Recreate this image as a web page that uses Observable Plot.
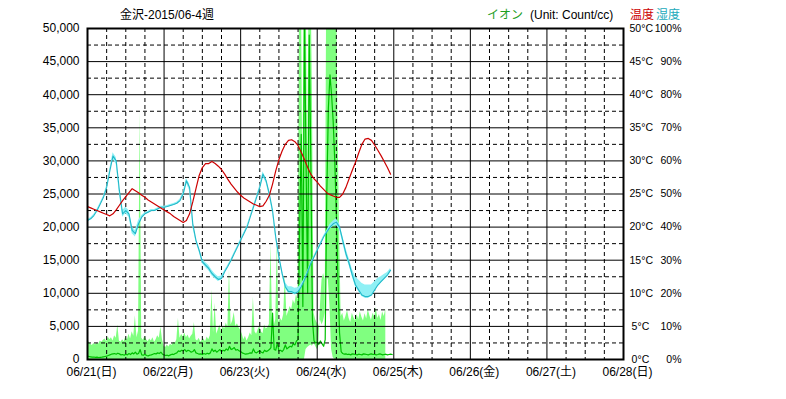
<!DOCTYPE html>
<html><head><meta charset="utf-8">
<script src="https://cdn.jsdelivr.net/npm/d3@7"></script>
<script src="https://cdn.jsdelivr.net/npm/@observablehq/plot@0.6"></script>
<style>
body{margin:0;background:#fff;}
#wrap{position:relative;width:786px;height:399px;font-family:"Liberation Sans","Noto Sans CJK JP",sans-serif;font-size:12px;}
.lbl{position:absolute;top:7px;white-space:nowrap;line-height:16px;}
#chart{position:absolute;left:0;top:0;}
</style></head><body>
<div id="wrap">
  <div id="chart"></div>
  <div class="lbl" style="left:120px;">金沢-2015/06-4週</div>
  <div class="lbl" style="left:487px;color:#1fa01f;">イオン</div>
  <div class="lbl" style="left:530px;">(Unit: Count/cc)</div>
  <div class="lbl" style="left:630px;color:#cc0000;">温度</div>
  <div class="lbl" style="left:656px;color:#22aabb;">湿度</div>
</div>
<script>
// ---- data (ion: every 30 min from 06/21 00:00; temp/humidity: hourly) ----
const dayDates = ["2015-06-21","2015-06-22","2015-06-23","2015-06-24","2015-06-25","2015-06-26","2015-06-27","2015-06-28"];
const dayLabels = ["06/21(日)","06/22(月)","06/23(火)","06/24(水)","06/25(木)","06/26(金)","06/27(土)","06/28(日)"];
const ionTicks = [0,5000,10000,15000,20000,25000,30000,35000,40000,45000,50000];
const ionHalfTicks = [2500,7500,12500,17500,22500,27500,32500,37500,42500,47500];
const tempTicks = [0,5,10,15,20,25,30,35,40,45,50];
const humTicks = [0,10,20,30,40,50,60,70,80,90,100];

const ionMax = [
3200,2600,2300,2100,2400,2200,2500,2300,2800,2600,
2900,3100,2700,3400,3000,3300,2800,3600,3200,5200,
2800,2600,3000,2700,3400,2900,3800,3100,4200,3500,
6600,3300,4300,37500,3200,2900,3500,3000,2700,3100,
2800,3300,2600,3000,3600,3200,4900,3000,
2000,1800,2200,1900,2300,2100,2600,2400,3000,6200,
3200,3800,3400,4000,3300,3700,3100,3500,3800,5600,
3000,2800,3200,2600,2900,3100,2700,3400,3000,3600,
10500,4000,8500,3800,4500,5200,4200,5000,4600,5500,
4800,13500,5200,5800,7100,5000,5400,4800,
4400,3800,3000,3500,2800,3300,4000,3600,9400,4200,
3800,4500,5000,4200,3900,5200,4600,4800,5300,17500,
5400,5000,6000,18000,5600,6200,5800,6800,12800,6500,
7200,8000,7500,9000,8400,9800,9000,60000,60000,26000,
60000,60000,27000,60000,60000,40000,7000,6000,
5500,5000,6000,5200,5800,7000,60000,60000,60000,60000,
60000,60000,60000,36000,20000,6500,7000,5800,6500,7400,
6200,5600,7000,6300,5800,6800,6000,7200,6400,5800,
6900,6100,7500,6600,5900,7000,6400,7800,6200,6800,
5900,7200,6500,7600,6000,6900,7400,6600];

const ionMin = [
0,0,0,0,0,0,0,0,0,0, 0,0,0,0,0,0,0,0,0,0, 0,0,0,0,0,0,0,0,0,0, 0,0,0,0,0,0,0,0,0,0, 0,0,0,0,0,0,0,0,
0,0,0,0,0,0,0,0,0,0, 0,0,0,0,0,0,0,0,0,0, 0,0,0,0,0,0,0,0,0,0, 0,0,0,0,0,0,0,0,0,0, 0,0,0,0,0,0,0,0,
0,0,0,0,0,0,0,0,0,0, 0,0,0,0,0,0,0,0,0,0, 0,0,0,0,0,0,0,0,0,0, 0,0,0,0,0,0,0,0,0,0,
0,1500,1800,2000,
2200,2000,2400,2000,1500,2000,8000,12000,13000,12000,
12500,12000,8000,1500,300,0,0,0,0,0,
0,0,0,0,0,0,0,0,0,0, 0,0,0,0,0,0,0,0,0,0, 0,0,0,0,0,0,0,0];

const ionAvg = [
500,450,400,350,380,320,350,300,330,350,
400,450,500,600,700,800,850,900,800,950,
850,700,750,650,800,700,900,750,1000,850,
1100,800,900,1500,700,650,800,600,550,650,
700,800,900,850,1000,900,1100,800,
700,600,650,550,700,800,750,900,1000,1300,
1200,1400,1300,1500,1200,1400,1300,1100,1200,1500,
1000,900,800,850,750,900,800,950,850,1000,
1600,1200,1400,1100,1300,1500,1200,1400,1300,1600,
1400,2000,1500,1600,1800,1400,1500,1300,
1200,1000,900,800,850,900,1000,950,1600,1100,
1000,1200,1300,1100,1000,1400,1200,1300,1500,1800,
7000,1500,1400,2500,1300,1400,1200,1500,2200,1600,
1800,2000,1900,2400,2200,2800,3000,20000,34000,8000,
52000,30000,10000,49000,30000,6000,2800,2500,
2600,2300,2800,2400,2000,3000,25000,38000,43000,40000,
36000,30000,22000,12000,4000,1200,900,800,850,750,
800,700,850,800,750,700,800,750,700,850,
800,750,700,800,850,750,800,700,750,850,
800,700,750,800,700,750,800,750];

const temperature = [
23.1,22.9,22.7,22.5,22.3,22.1,21.9,21.7,22.0,22.6,
23.3,24.0,24.6,25.2,25.8,25.5,25.2,24.8,24.5,24.1,
23.8,23.5,23.2,22.9,22.6,22.3,22.0,21.6,21.3,21.0,
20.7,21.0,22.0,23.8,25.8,27.8,29.0,29.6,29.6,29.9,
29.6,29.2,28.7,28.0,27.2,26.5,25.9,25.3,24.8,24.4,
24.1,23.8,23.5,23.3,23.1,23.2,23.9,24.8,26.5,28.5,
30.2,31.5,32.5,33.1,33.2,32.9,32.3,31.3,30.2,29.0,
28.0,27.3,26.8,26.2,25.7,25.2,24.9,24.7,24.5,24.5,
25.0,26.0,27.3,28.6,29.8,31.2,32.5,33.3,33.4,33.1,
32.4,31.6,30.8,29.9,29.0,28.0];

const humidity = [
42,42.5,43.5,45,47,49,52,57,61.5,60,
51,44,45,44,39,38,41,43,44,44.5,
45,45,45.5,46,46,46.2,46.5,46.8,47.2,48,
50,54,52,41,36,33,29.5,28.5,27.5,26,
25,24.2,24.5,26.5,28.2,30,32,34,36,38,
40,43,46,49,52,56,54,50,45,37,
31,26,22,20.5,20.5,20,20.5,22,24,26.5,
29,31,33,35,37,38.5,40,41,41.5,40,
36,32,29,25.5,22.5,21,19.5,19,19,19.5,
21,22.5,23.5,24.5,25.5,27];

const humMin = [
41.7,42.2,43.2,44.7,46.7,48.7,51.5,56.5,60.5,59,
50,43,44,43,38,37,40,42.5,43.7,44.2,
44.7,44.7,45.2,45.7,45.7,45.9,46.2,46.5,46.9,47.6,
49.5,53.3,51,40,35.5,32.5,29,27.8,26.8,25.3,
24.4,23.6,24,26.1,27.9,29.7,31.7,33.7,35.7,37.7,
39.7,42.7,45.7,48.7,51.5,55.3,53.3,49.3,44.3,36.3,
30.5,25.5,21.5,20,20,19.5,20,21.6,23.7,26.2,
28.7,30.7,32.7,34.7,36.7,38,39.3,40.2,40.5,39.2,
35.2,31.3,28.4,25,22,20.5,19,18.5,18.5,19,
20.6,22,23,24.1,25.2,26.7];

const humMax = [
42.3,42.8,43.8,45.3,47.3,49.3,52.5,57.5,62.5,61,
52,45,46,45,40,39,42,43.5,44.3,44.8,
45.3,45.3,45.8,46.3,46.3,46.5,46.8,47.1,47.5,48.4,
50.5,54.7,53,42,36.5,33.5,30.3,29.3,28.5,27,
25.8,25,25.2,26.9,28.5,30.3,32.3,34.3,36.3,38.3,
40.3,43.3,46.3,49.3,52.5,56.7,54.7,50.7,45.7,37.7,
31.8,27,23.3,22,22,21.5,21.7,22.8,24.5,26.8,
29.3,31.3,33.3,35.3,37.3,39,40.8,41.8,42.5,41,
37.2,33.5,30.5,27.3,25,24,23,22.5,22.5,22.5,
23.5,24.5,25,25.7,26.3,27.5];

// ---- build tables ----
const start = Date.UTC(2015, 5, 21);
const HALF = 1800e3, HOUR = 3600e3;
const ion = ionMax.map((v, i) => ({t: new Date(start + i * HALF), max: v, min: ionMin[i], avg: ionAvg[i]}));
const th = temperature.map((v, i) => ({t: new Date(start + i * HOUR), temp: v, hum: humidity[i], hmin: humMin[i], hmax: humMax[i]}));
const days = dayDates.map(s => new Date(s));
const labelOf = new Map(days.map((d, i) => [d.getTime(), dayLabels[i]]));
const quarter = d3.utcHour.every(6).range(days[0], days[days.length - 1]).filter(d => d.getUTCHours() !== 0);

// temperature 0-50 °C and humidity 0-100 % share the 0-50,000 ion axis
const T = 1000, H = 500;

const chart = Plot.plot({
  width: 786, height: 399,
  marginLeft: 87, marginRight: 163, marginTop: 28, marginBottom: 40,
  style: {fontFamily: '"Liberation Sans","Noto Sans CJK JP",sans-serif', fontSize: "12px", background: "white", color: "black"},
  x: {type: "utc", domain: [days[0], days[days.length - 1]]},
  y: {domain: [0, 50000]},
  marks: [
    Plot.areaY(ion, {x: "t", y1: "min", y2: "max", fill: "#80ff80", clip: true}),
    Plot.lineY(ion, {x: "t", y: "avg", stroke: "#00c000", strokeWidth: 1.2, clip: true}),
    Plot.ruleY(ionHalfTicks, {stroke: "#000", strokeDasharray: "4,3"}),
    Plot.ruleY(ionTicks, {stroke: "#000"}),
    Plot.ruleX(quarter, {stroke: "#000", strokeDasharray: "4,3"}),
    Plot.ruleX(days, {stroke: "#000"}),
    Plot.areaY(th, {x: "t", y1: d => d.hmin * H, y2: d => d.hmax * H, fill: "#8ff0f5", clip: true}),
    Plot.lineY(th, {x: "t", y: d => d.hum * H, stroke: "#20b8c8", strokeWidth: 1.1, clip: true}),
    Plot.lineY(th, {x: "t", y: d => d.temp * T, stroke: "#cc0000", strokeWidth: 1.2, clip: true}),
    Plot.frame({stroke: "#000", strokeWidth: 2}),
    Plot.axisY(ionTicks, {anchor: "left", tickSize: 0, tickPadding: 8, tickFormat: d3.format(","), label: null}),
    Plot.axisY(tempTicks.map(v => v * T), {anchor: "right", tickSize: 0, tickPadding: 6, textAnchor: "start",
      fontSize: 10.5, tickFormat: d => (d < 10000 ? "\u2009" : "") + (d / T) + "°C", label: null}),
    Plot.axisY(humTicks.map(v => v * H), {anchor: "right", tickSize: 0, tickPadding: 58, textAnchor: "end",
      fontSize: 10.5, tickFormat: d => (d / H) + "%", label: null}),
    Plot.axisX(days, {anchor: "bottom", tickSize: 0, tickPadding: 8, dx: 4,
      tickFormat: d => labelOf.get(+d), label: null})
  ]
});
document.getElementById("chart").appendChild(chart);
</script>
</body></html>
